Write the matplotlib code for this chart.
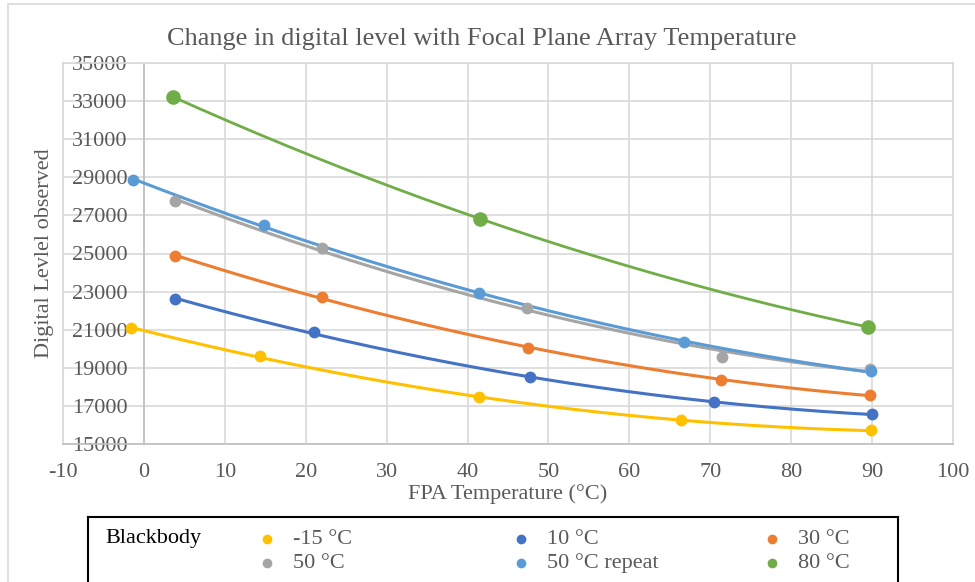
import numpy as np
import matplotlib
matplotlib.use("Agg")
import matplotlib.pyplot as plt
from matplotlib.patches import Rectangle

plt.rcParams["font.family"] = ["Liberation Serif", "DejaVu Serif"]
plt.rcParams["axes.unicode_minus"] = False

GRAY_TXT = "#595959"
GRID = "#d9d9d9"

# blackbody series: FPA temperature (°C) vs digital level
labels = ["-15 °C", "10 °C", "30 °C", "50 °C", "50 °C repeat", "80 °C"]
colors = ["#FFC000", "#4472C4", "#ED7D31", "#A5A5A5", "#5B9BD5", "#70AD47"]

x_m15 = [-1.6, 14.4, 41.4, 66.4, 89.9]
y_m15 = [21090, 19600, 17450, 16240, 15710]

x_10 = [3.9, 21.0, 47.7, 70.4, 90.0]
y_10 = [22610, 20860, 18500, 17180, 16570]

x_30 = [3.8, 22.0, 47.5, 71.3, 89.8]
y_30 = [24880, 22720, 20040, 18380, 17550]

x_50 = [3.9, 22.0, 47.3, 71.5, 89.8]
y_50 = [27740, 25290, 22140, 19570, 18940]

x_50r = [-1.3, 14.9, 41.4, 66.7, 89.9]
y_50r = [28840, 26510, 22930, 20330, 18810]

x_80 = [3.6, 41.5, 89.5]
y_80 = [33220, 26830, 21140]

series_x = [x_m15, x_10, x_30, x_50, x_50r, x_80]
series_y = [y_m15, y_10, y_30, y_50, y_50r, y_80]

x_ticks = list(range(-10, 101, 10))
y_ticks = list(range(15000, 35001, 2000))

fig = plt.figure(figsize=(9.75, 5.82), dpi=100)

# outer chart frame
fig.patches.append(Rectangle((8 / 975, -0.1), 1.2, 1.1 - 4 / 582, transform=fig.transFigure,
                             facecolor="none", edgecolor=GRID, linewidth=1.2))

ax = fig.add_axes([63 / 975, 1 - 444 / 582, 890 / 975, 381 / 582])

draw_order = [5, 0, 1, 2, 3, 4]
for i in draw_order:
    xs = np.array(series_x[i], dtype=float)
    ys = np.array(series_y[i], dtype=float)
    # polynomial (order 2) trendline, as in the spreadsheet chart
    coef = np.polyfit(xs, ys, 2)
    xt = np.linspace(xs.min(), xs.max(), 200)
    ms = 10.5 if i == 5 else 8.5
    lw = 2.0 if i == 5 else 2.2
    ax.plot(xt, np.polyval(coef, xt), color=colors[i], lw=lw, zorder=3)
    ax.plot(xs, ys, "o", color=colors[i], ms=ms, mec="none", zorder=4)

ax.set_xlim(-10, 100)
ax.set_ylim(15000, 35000)
ax.set_xticks(x_ticks)
ax.set_yticks(y_ticks)
ax.grid(True, color=GRID, lw=1.2, zorder=0)
ax.set_axisbelow(True)

for s in ["top", "right"]:
    ax.spines[s].set_color(GRID)
    ax.spines[s].set_linewidth(1.2)
ax.spines["left"].set_position(("data", 0))
ax.spines["left"].set_color("#bfbfbf")
ax.spines["left"].set_linewidth(1.2)
ax.spines["bottom"].set_color("#bfbfbf")
ax.spines["bottom"].set_linewidth(1.2)
ax.axvline(-10, color=GRID, lw=1.2, clip_on=False, zorder=0)

ax.tick_params(axis="both", length=0, labelsize=16, labelcolor=GRAY_TXT)
ax.tick_params(axis="y", pad=12)
ax.tick_params(axis="x", pad=14)

ax.set_title("Change in digital level with Focal Plane Array Temperature",
             fontsize=19, color=GRAY_TXT, pad=13, x=0.47)
ax.set_xlabel("FPA Temperature (°C)", fontsize=16, color=GRAY_TXT)
ax.set_ylabel("Digital Levlel observed", fontsize=16, color=GRAY_TXT)
ax.xaxis.set_label_coords(0.5, -0.105)
ax.yaxis.set_label_coords(-0.010, 0.5)

# legend box
lax = fig.add_axes([88 / 975, -20 / 582, 810 / 975, 85 / 582])
lax.set_xlim(88, 898)
lax.set_ylim(602, 517)
lax.set_xticks([])
lax.set_yticks([])
for s in lax.spines.values():
    s.set_color("black")
    s.set_linewidth(1.5)
lax.text(105, 539, "Blackbody", fontsize=16, color="black", va="center", ha="left")
col_x = [267, 521, 772]
row_y = [539, 563]
legend_order = [0, 1, 2, 3, 4, 5]
for k, i in enumerate(legend_order):
    cx = col_x[k % 3]
    ry = row_y[k // 3]
    lax.plot([cx], [ry], "o", color=colors[i], ms=7, mec="none")
    lax.text(cx + 26, ry, labels[i], fontsize=16, color=GRAY_TXT, va="center", ha="left")

fig.savefig("out.png", dpi=100)
